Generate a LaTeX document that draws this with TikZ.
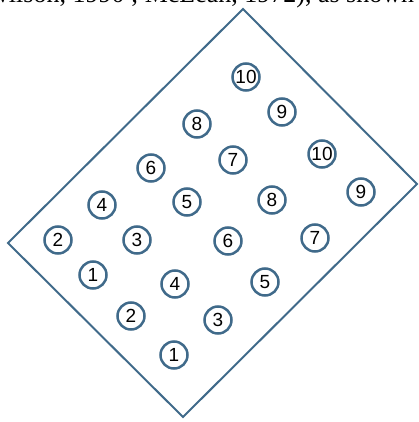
\documentclass[tikz,border=0pt]{standalone}
\usepackage{fontspec}
\setmainfont{Liberation Serif}
\newfontfamily\digitfont{Liberation Sans}
\definecolor{trayblue}{RGB}{64, 106, 138}
\usetikzlibrary{positioning}

\begin{document}
\begin{tikzpicture}[
  x=1pt, y=-1pt,
  tray/.style={draw=trayblue, line width=2pt, line join=miter},
  well/.style={circle, draw=trayblue, line width=2.5pt, fill=white, minimum size=27pt, inner sep=0pt, font=\digitfont\fontsize{19}{19}\selectfont}
]
  \useasboundingbox (0, 0) rectangle (419, 422);
  \clip (0, 0) rectangle (419, 422);
  \node[anchor=base west, inner sep=0pt, font=\fontsize{26}{26}\selectfont] (cite) at (-10, 3) {wilson, 1990 ; McLean, 1972), as shown in};
  % tray outline
  \coordinate (top) at (243, 9);
  \coordinate (rgt) at (417, 184);
  \coordinate (bot) at (183, 417);
  \coordinate (lft) at (8, 243);
  \draw[tray] (top) -- (rgt) -- (bot) -- (lft) -- cycle;
  % first row of wells
  \foreach \n/\x/\y in {1/93/275, 2/58/240, 3/137/240, 4/102/205, 5/187/202, 6/151/168, 7/233/160, 8/197/124, 9/282/112, 10/246/77}
    \node[well] (a\n) at (\x, \y) {\n};
  % second row of wells
  \foreach \n/\x/\y in {1/174/355, 2/131/316, 3/218/320, 4/175/284, 5/265/282, 6/228/241, 7/315/238, 8/272/200, 9/361/192, 10/322/154}
    \node[well] (b\n) at (\x, \y) {\n};
\end{tikzpicture}
\end{document}
